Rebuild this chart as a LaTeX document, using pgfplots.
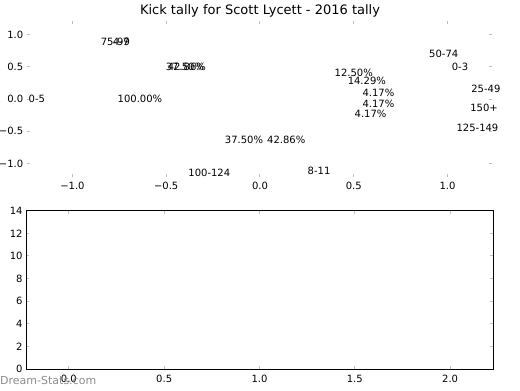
\documentclass[border=0pt]{standalone}
\usepackage{pgfplots}
\pgfplotsset{compat=1.18}
\usepackage{fontspec}
\setmainfont{DejaVu Sans}
\definecolor{tickgray}{RGB}{190,190,190}
\definecolor{wmgray}{RGB}{140,140,140}
\begin{document}
\begin{tikzpicture}[x=1bp,y=1bp]
\useasboundingbox (0,0) rectangle (520,390);
% title
\node[font=\fontsize{13bp}{15bp}\selectfont] at (260,379) {Kick tally for Scott Lycett - 2016 tally};
% top (pie) axis
\begin{axis}[
  at={(26.7bp,213bp)}, anchor=south west,
  scale only axis, width=465bp, height=156bp,
  xmin=-1.244, xmax=1.236, ymin=-1.209, ymax=1.209,
  axis line style={draw=none},
  xtick={-1,-0.5,0,0.5,1},
  xticklabels={−1.0,−0.5,0.0,0.5,1.0},
  ytick={-1,-0.5,0,0.5,1},
  yticklabels={−1.0,−0.5,0.0,0.5,1.0},
  tick align=inside, major tick length=3bp,
  tick style={tickgray, line width=1bp},
  tick label style={font=\fontsize{10bp}{12bp}\selectfont},
  xticklabel style={yshift=-2bp},
  clip=false,
]
\addplot[draw=none] coordinates {(0,0)};
\node[font=\fontsize{10bp}{12bp}\selectfont] at (axis cs:-1.19,0) {0-5};
\node[font=\fontsize{10bp}{12bp}\selectfont] at (axis cs:-0.64,0) {100.00\%};
\node[font=\fontsize{10bp}{12bp}\selectfont] at (axis cs:-0.771,0.89) {75-99};
\node[font=\fontsize{10bp}{12bp}\selectfont] at (axis cs:-0.741,0.89) {4-7};
\node[font=\fontsize{10bp}{12bp}\selectfont] at (axis cs:-0.40,0.50) {37.50\%};
\node[font=\fontsize{10bp}{12bp}\selectfont] at (axis cs:-0.39,0.50) {42.86\%};
\node[font=\fontsize{10bp}{12bp}\selectfont] at (axis cs:-0.085,-0.64) {37.50\%};
\node[font=\fontsize{10bp}{12bp}\selectfont] at (axis cs:0.14,-0.64) {42.86\%};
\node[font=\fontsize{10bp}{12bp}\selectfont] at (axis cs:-0.27,-1.14) {100-124};
\node[font=\fontsize{10bp}{12bp}\selectfont] at (axis cs:0.315,-1.11) {8-11};
\node[font=\fontsize{10bp}{12bp}\selectfont] at (axis cs:0.50,0.40) {12.50\%};
\node[font=\fontsize{10bp}{12bp}\selectfont] at (axis cs:0.57,0.28) {14.29\%};
\node[font=\fontsize{10bp}{12bp}\selectfont] at (axis cs:0.632,0.094) {4.17\%};
\node[font=\fontsize{10bp}{12bp}\selectfont] at (axis cs:0.632,-0.08) {4.17\%};
\node[font=\fontsize{10bp}{12bp}\selectfont] at (axis cs:0.59,-0.23) {4.17\%};
\node[font=\fontsize{10bp}{12bp}\selectfont] at (axis cs:0.98,0.70) {50-74};
\node[font=\fontsize{10bp}{12bp}\selectfont] at (axis cs:1.067,0.50) {0-3};
\node[font=\fontsize{10bp}{12bp}\selectfont] at (axis cs:1.205,0.156) {25-49};
\node[font=\fontsize{10bp}{12bp}\selectfont] at (axis cs:1.195,-0.14) {150+};
\node[font=\fontsize{10bp}{12bp}\selectfont] at (axis cs:1.16,-0.44) {125-149};
\end{axis}
% bottom axis
\begin{axis}[
  at={(26bp,21bp)}, anchor=south west,
  scale only axis, width=467bp, height=158.3bp,
  xmin=-0.225, xmax=2.225, ymin=0, ymax=14,
  axis line style={black, line width=1bp},
  xtick={0,0.5,1,1.5,2},
  xticklabels={0.0,0.5,1.0,1.5,2.0},
  ytick={0,2,4,6,8,10,12,14},
  /pgf/number format/assume math mode=true,
  tick align=inside, major tick length=3bp,
  tick style={tickgray, line width=1bp},
  tick label style={font=\fontsize{10bp}{12bp}\selectfont},
  xticklabel style={yshift=-2.5bp},
]
\addplot[draw=none] coordinates {(0,0)};
\end{axis}
\node[font=\fontsize{11bp}{13bp}\selectfont, text=wmgray, anchor=west, inner sep=0pt] at (0,10) {Dream-Stats.com};
\end{tikzpicture}
\end{document}
